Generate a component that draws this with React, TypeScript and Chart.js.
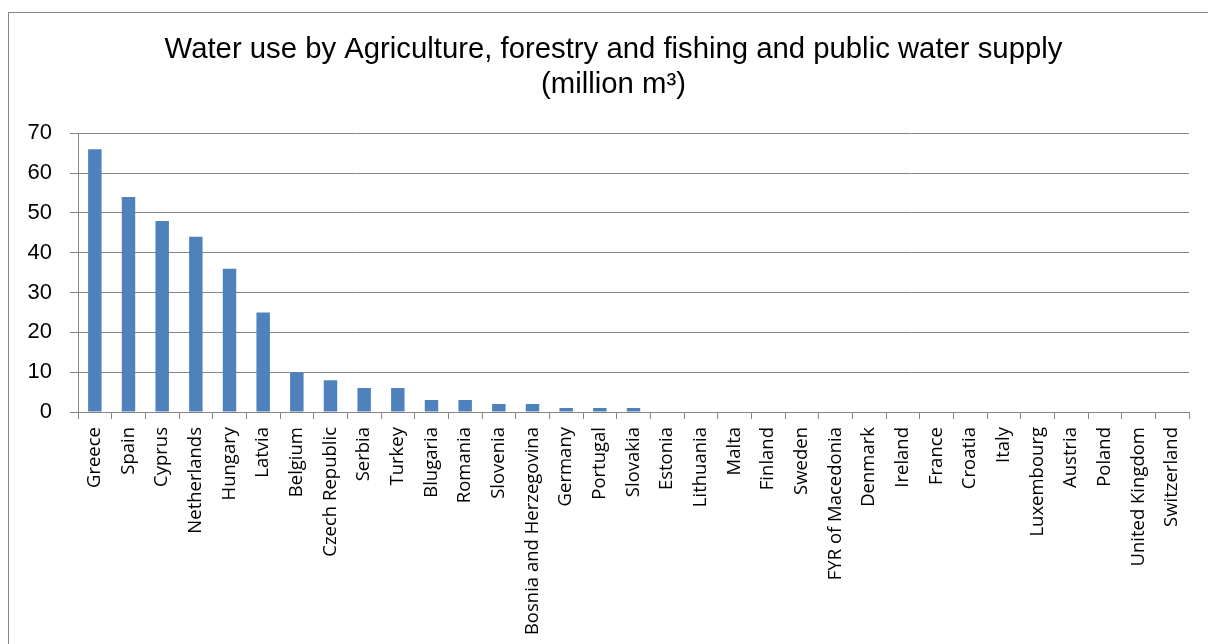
import React, { useEffect, useRef } from "react";
import { Chart, registerables } from "chart.js";

Chart.register(...registerables);

const categories = [
  "Greece", "Spain", "Cyprus", "Netherlands", "Hungary", "Latvia", "Belgium",
  "Czech Republic", "Serbia", "Turkey", "Blugaria", "Romania", "Slovenia",
  "Bosnia and Herzegovina", "Germany", "Portugal", "Slovakia", "Estonia",
  "Lithuania", "Malta", "Finland", "Sweden", "FYR of Macedonia", "Denmark",
  "Ireland", "France", "Croatia", "Italy", "Luxembourg", "Austria", "Poland",
  "United Kingdom", "Switzerland",
];

const waterUse = [
  66, 54, 48, 44, 36, 25, 10, 8, 6, 6, 3, 3, 2, 2, 1, 1, 1, 0, 0, 0, 0, 0, 0, 0,
  0, 0, 0, 0, 0, 0, 0, 0, 0,
];

const titleLines = [
  "Water use by Agriculture, forestry and fishing and public water supply",
  "(million m³)",
];

const yMin = 0;
const yMax = 70;
const yStep = 10;

const GRID = "#868686";

export default function App() {
  const ref = useRef<HTMLCanvasElement | null>(null);

  useEffect(() => {
    if (!ref.current) return;
    const chart = new Chart(ref.current, {
      type: "bar",
      data: {
        labels: categories,
        datasets: [
          {
            data: waterUse,
            backgroundColor: "#4F81BD",
            borderWidth: 0,
            barPercentage: 0.4,
            categoryPercentage: 1,
          },
        ],
      },
      options: {
        animation: false,
        responsive: false,
        maintainAspectRatio: false,
        layout: { padding: 0 },
        plugins: {
          legend: { display: false },
          tooltip: { enabled: false },
          title: {
            display: true,
            text: titleLines,
            color: "#000",
            font: { family: "'Liberation Sans', Arial, sans-serif", size: 29.3, weight: "normal", lineHeight: 1.2 },
            padding: { top: 19, bottom: 31 },
          },
        },
        scales: {
          x: {
            grid: {
              display: true,
              drawOnChartArea: false,
              drawTicks: true,
              tickLength: 7,
              color: GRID,
              offset: true,
            },
            border: { display: true, color: GRID },
            ticks: {
              autoSkip: false,
              minRotation: 90,
              maxRotation: 90,
              padding: 8,
              color: "#000",
              font: { family: "'Open Sans', sans-serif", size: 18.5 },
            },
            afterFit: (scale: any) => {
              scale.height = 232;
            },
          },
          y: {
            min: yMin,
            max: yMax,
            grid: { color: GRID, tickLength: 8 },
            border: { display: true, color: GRID },
            ticks: {
              stepSize: yStep,
              padding: 18,
              color: "#000",
              font: { family: "'Liberation Sans', Arial, sans-serif", size: 22 },
            },
            afterFit: (scale: any) => {
              scale.width = 69;
            },
          },
          spacer: {
            type: "linear",
            position: "right",
            display: true,
            min: 0,
            max: 1,
            grid: { display: false, drawOnChartArea: false },
            border: { display: false },
            ticks: { display: false },
            afterFit: (scale: any) => {
              scale.width = 29;
            },
          },
        },
      },
    });
    return () => chart.destroy();
  }, []);

  return (
    <div style={{ position: "fixed", inset: 0, overflow: "hidden", background: "#fff" }}>
      <div
        style={{
          position: "absolute",
          left: 8,
          top: 12,
          width: 1260,
          height: 700,
          borderTop: `1px solid ${GRID}`,
          borderLeft: `1px solid ${GRID}`,
          background: "#fff",
        }}
      >
        <canvas ref={ref} width={1209} height={631} style={{ display: "block", width: 1209, height: 631 }} />
      </div>
    </div>
  );
}
